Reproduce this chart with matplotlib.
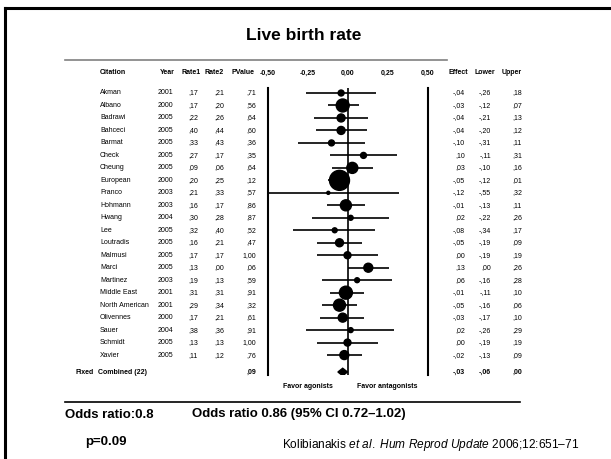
import matplotlib
matplotlib.use("Agg")
import matplotlib.pyplot as plt
import matplotlib.transforms as mtransforms
from matplotlib.lines import Line2D
from matplotlib.patches import Polygon

plt.rcParams["font.family"] = "Liberation Sans"
plt.rcParams["mathtext.fontset"] = "custom"
plt.rcParams["mathtext.rm"] = "Liberation Sans"
plt.rcParams["mathtext.it"] = "Liberation Sans:italic"

citations = ["Akman", "Albano", "Badrawi", "Bahceci", "Barmat", "Check", "Cheung",
             "European", "Franco", "Hohmann", "Hwang", "Lee", "Loutradis", "Malmusi",
             "Marci", "Martinez", "Middle East", "North American", "Olivennes",
             "Sauer", "Schmidt", "Xavier"]
years = [2001, 2000, 2005, 2005, 2005, 2005, 2005, 2000, 2003, 2003, 2004, 2005,
         2005, 2005, 2005, 2003, 2001, 2001, 2000, 2004, 2005, 2005]
rate1 = [.17, .17, .22, .40, .33, .27, .09, .20, .21, .16, .30, .32, .16, .17, .13,
         .19, .31, .29, .17, .38, .13, .11]
rate2 = [.21, .20, .26, .44, .43, .17, .06, .25, .33, .17, .28, .40, .21, .17, .00,
         .13, .31, .34, .21, .36, .13, .12]
pvalue = [.71, .56, .64, .60, .36, .35, .64, .12, .57, .86, .87, .52, .47, 1.00, .06,
          .59, .91, .32, .61, .91, 1.00, .76]
effect = [-.04, -.03, -.04, -.04, -.10, .10, .03, -.05, -.12, -.01, .02, -.08, -.05,
          .00, .13, .06, -.01, -.05, -.03, .02, .00, -.02]
lower = [-.26, -.12, -.21, -.20, -.31, -.11, -.10, -.12, -.55, -.13, -.22, -.34, -.19,
         -.19, .00, -.16, -.11, -.16, -.17, -.26, -.19, -.13]
upper = [.18, .07, .13, .12, .11, .31, .16, .01, .32, .11, .26, .17, .09, .19, .26,
         .28, .10, .06, .10, .29, .19, .09]
# relative study weights (%)
weights = [1.9, 9.0, 3.4, 3.4, 1.9, 1.9, 6.5, 21.3, 0.5, 6.5, 1.3, 1.3, 3.4, 2.6,
           4.3, 1.3, 9.0, 7.7, 4.3, 1.3, 2.6, 4.3]

comb_label = "Combined (22)"
comb_p = .09
comb_effect, comb_lower, comb_upper = -.03, -.06, .00
ticks = [-0.5, -0.25, 0.0, 0.25, 0.5]


def fmt(v):
    # SPSS style: ,17  -,04  1,00
    s = f"{v:.2f}"
    return s.replace("0.", ",", 1) if s.lstrip("-").startswith("0.") else s.replace(".", ",")


W, H = 611, 459
fig = plt.figure(figsize=(W / 100, H / 100), dpi=100)

# table axes in pixel units
ax = fig.add_axes([0, 0, 1, 1])
ax.set_xlim(0, W)
ax.set_ylim(H, 0)
ax.axis("off")

# frame and rules
fig.add_artist(Line2D([5 / W, 5 / W], [0, 1 - 8 / H], color="black", lw=2.2))
fig.add_artist(Line2D([5 / W, 1], [1 - 8 / H, 1 - 8 / H], color="black", lw=2.2))
ax.plot([65, 447], [60, 60], color="#808080", lw=1.2)
ax.plot([65, 520], [402, 402], color="black", lw=1.2)

ax.text(304, 35, "Live birth rate", ha="center", va="center", fontsize=12.5, fontweight="bold")

# forest axes: x in effect units, y in row index
row0, dy = 93, 12.48
top_px, bot_px = 88, 375
x0, x1 = 267.5, 427.5
ax2 = fig.add_axes([x0 / W, 1 - bot_px / H, (x1 - x0) / W, (bot_px - top_px) / H])
ax2.set_xlim(-0.5, 0.5)
ax2.set_ylim((bot_px - row0) / dy, (top_px - row0) / dy)
ax2.patch.set_alpha(0)
for side in ["top", "bottom"]:
    ax2.spines[side].set_visible(False)
for side in ["left", "right"]:
    ax2.spines[side].set_linewidth(1.5)
ax2.set_xticks([])
ax2.set_yticks([])
ax2.axvline(0, color="black", lw=1.2)

rows = list(range(len(citations)))
comb_row = (372 - row0) / dy
ax2.hlines(rows, lower, upper, color="black", lw=1.2)
ax2.scatter(effect, rows, s=[w * 9.7 for w in weights], color="black", zorder=3)
ax2.add_patch(Polygon([(comb_lower, comb_row), (comb_effect, comb_row - 0.3),
                       (comb_upper, comb_row), (comb_effect, comb_row + 0.3)],
                      closed=True, color="black", zorder=3))

row_y = [row0 + i * dy for i in rows]
comb_y = 372
head_y = 73
fs = 5

# headers
hdr = dict(fontsize=fs, fontweight="bold", va="center")
ax.text(100, head_y, "Citation", ha="left", **hdr)
ax.text(167, head_y, "Year", ha="center", **hdr)
ax.text(191, head_y, "Rate1", ha="center", **hdr)
ax.text(214, head_y, "Rate2", ha="center", **hdr)
ax.text(243, head_y, "PValue", ha="center", **hdr)
ax.text(458, head_y, "Effect", ha="center", **hdr)
ax.text(485, head_y, "Lower", ha="center", **hdr)
ax.text(512, head_y, "Upper", ha="center", **hdr)
tick_tr = mtransforms.blended_transform_factory(ax2.transData, ax.transData)
for t in ticks:
    ax.text(t, head_y, f"{t:.2f}".replace(".", ","), ha="center", transform=tick_tr, **hdr)

# rows
for i, y in enumerate(row_y):
    kw = dict(fontsize=fs, va="center")
    ax.text(100, y, citations[i], ha="left", **kw)
    ax.text(165, y, str(years[i]), ha="center", **kw)
    ax.text(198, y, fmt(rate1[i]), ha="right", **kw)
    ax.text(224, y, fmt(rate2[i]), ha="right", **kw)
    ax.text(256, y, fmt(pvalue[i]), ha="right", **kw)
    ax.text(465, y, fmt(effect[i]), ha="right", **kw)
    ax.text(491, y, fmt(lower[i]), ha="right", **kw)
    ax.text(522, y, fmt(upper[i]), ha="right", **kw)

ax.text(76, comb_y, "Fixed", ha="left", **hdr)
ax.text(98, comb_y, comb_label, ha="left", **hdr)
ax.text(256, comb_y, fmt(comb_p), ha="right", **hdr)
ax.text(465, comb_y, fmt(comb_effect), ha="right", **hdr)
ax.text(491, comb_y, fmt(comb_lower), ha="right", **hdr)
ax.text(522, comb_y, fmt(comb_upper), ha="right", **hdr)

ax.text(-0.25, 387, "Favor agonists", ha="center", transform=tick_tr, **hdr)
ax.text(0.25, 387, "Favor antagonists", ha="center", transform=tick_tr, **hdr)

# summary
ax.text(65, 415, "Odds ratio:0.8", ha="left", va="center", fontsize=9.5, fontweight="bold")
ax.text(192, 414, "Odds ratio 0.86 (95% CI 0.72\u20131.02)", ha="left", va="center",
        fontsize=9.5, fontweight="bold")
ax.text(85, 442, "p=0.09", ha="left", va="center", fontsize=9.5, fontweight="bold")
ax.text(282, 445, r"Kolibianakis $\mathit{et\ al.}$ $\mathit{Hum\ Reprod\ Update}$ " + "2006;12:651\u201371",
        ha="left", va="center", fontsize=8.6)

fig.savefig("out.png", dpi=100)
